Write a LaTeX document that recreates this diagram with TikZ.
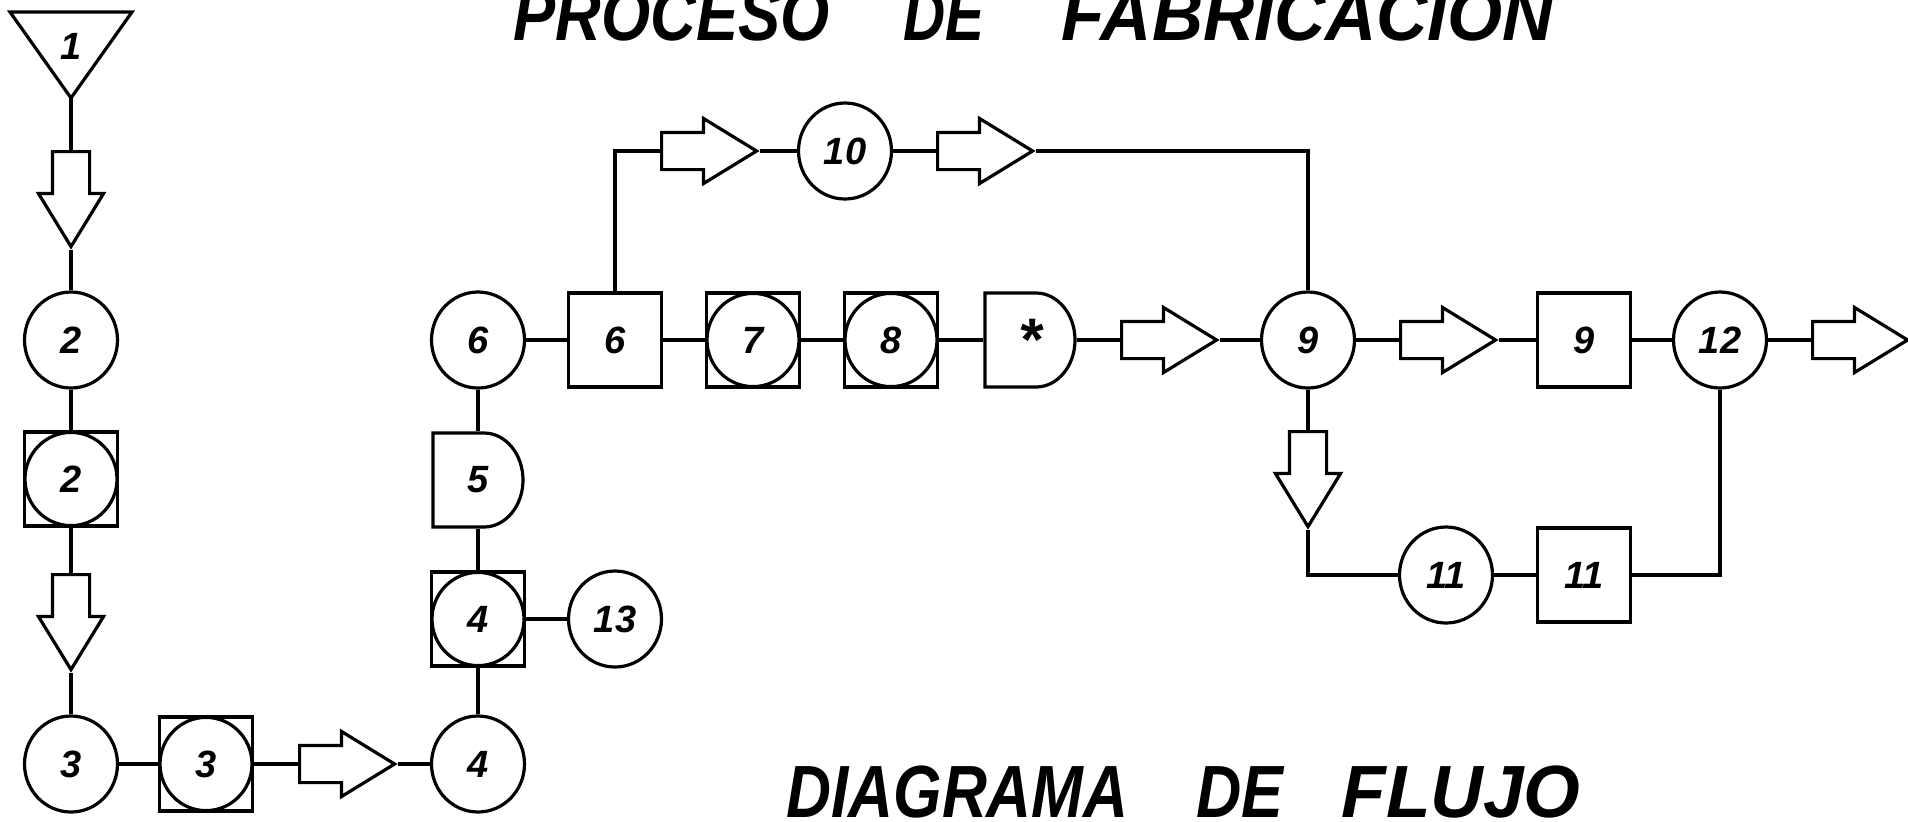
\documentclass[tikz,border=0pt]{standalone}
\usepackage{fontspec}
\setmainfont{Liberation Sans}
\usetikzlibrary{shapes.geometric,shapes.arrows}
\begin{document}
\begin{tikzpicture}[x=0.5pt,y=-0.5pt,
  line width=1.6pt,
  every node/.style={inner sep=0pt, font=\fontsize{19}{19}\selectfont\bfseries\itshape},
  circ/.style={draw, ellipse, minimum width=46.5pt, minimum height=48pt},
  sqbox/.style={draw, rectangle, minimum width=46.5pt, minimum height=47pt},
  boxcirc/.style={sqbox, path picture={\draw[line width=1.6pt] (path picture bounding box.center) ellipse [x radius=23pt, y radius=23.3pt];}},
  dbox/.style={rectangle, minimum width=45pt, minimum height=47pt},
  rarrow/.style={draw, single arrow, anchor=tail, minimum height=47.5pt, minimum width=31pt, inner xsep=0pt, inner ysep=8.5pt, single arrow head extend=7pt, single arrow tip angle=63},
  darrow/.style={rarrow, rotate=-90},
  titlefont/.style={font=\fontsize{37}{37}\selectfont\bfseries\itshape}
]
\clip (0,0) rectangle (1908,821);

% titles
\node[titlefont, anchor=base west] (title) at (512,40) {\resizebox{158pt}{\height}{PROCESO}\hspace{37pt}\resizebox{40.5pt}{\height}{DE}\hspace{38.5pt}\resizebox{246pt}{\height}{FABRICACION}};
\node[titlefont, anchor=base west] (sub) at (785,817) {\resizebox{171pt}{\height}{DIAGRAMA}\hspace{34pt}\resizebox{43.5pt}{\height}{DE}\hspace{29pt}\resizebox{119.5pt}{\height}{FLUJO}};

% left column
\node (t1) at (71,46) {1};
\coordinate (t1apex) at (71,98);
\draw (10,12) -- (132,12) -- (t1apex) -- cycle;
\node[darrow] (a1) at (71,150) {};
\node[circ] (c2) at (71,340) {2};
\node[boxcirc] (bc2) at (71,479) {2};
\node[darrow] (a2) at (71,573) {};
\node[circ] (c3) at (71,764) {3};

% bottom row
\node[boxcirc] (bc3) at (206,764) {3};
\node[rarrow] (a3) at (298,764) {};
\node[circ] (c4b) at (478,764) {4};

% second column
\node[boxcirc] (bc4) at (478,619) {4};
\node[circ] (c13) at (615,619) {13};
\node[dbox] (d5) at (478,480) {5};
\node[circ] (c6) at (478,340) {6};

% main row
\node[sqbox] (b6) at (615,340) {6};
\node[boxcirc] (bc7) at (753,340) {7};
\node[boxcirc] (bc8) at (891,340) {8};
\node[dbox] (dst) at (1030,340) {\fontsize{30}{30}\selectfont\raisebox{-0.3em}{*}};
\node[rarrow] (aC) at (1120,340) {};
\node[circ] (c9) at (1308,340) {9};
\node[rarrow] (aD) at (1399,340) {};
\node[sqbox] (b9) at (1584,340) {9};
\node[circ] (c12) at (1720,340) {12};
\node[rarrow] (aE) at (1811,340) {};

% top branch
\node[rarrow] (aA) at (660,151) {};
\node[circ] (c10) at (845,151) {10};
\node[rarrow] (aB) at (936,151) {};

% bottom branch
\node[darrow] (a9) at (1308,430) {};
\node[circ] (c11) at (1446,575) {11};
\node[sqbox] (b11) at (1584,575) {11};

% D shapes (straight back, rounded front)
\draw[shift={(d5.center)}] (-45,-47) -- (6,-47) .. controls (27.5,-47) and (45,-26) .. (45,0) .. controls (45,26) and (27.5,47) .. (6,47) -- (-45,47) -- cycle;
\draw[shift={(dst.center)}] (-45,-47) -- (6,-47) .. controls (27.5,-47) and (45,-26) .. (45,0) .. controls (45,26) and (27.5,47) .. (6,47) -- (-45,47) -- cycle;

% connectors
\draw (t1apex) -- (a1.tail);
\draw (a1.tip) -- (c2);
\draw (c2) -- (bc2);
\draw (bc2) -- (a2.tail);
\draw (a2.tip) -- (c3);
\draw (c3) -- (bc3);
\draw (bc3) -- (a3.tail);
\draw (a3.tip) -- (c4b);
\draw (c4b) -- (bc4);
\draw (c13) -- (bc4);
\draw (bc4) -- (d5.south);
\draw (d5.north) -- (c6);
\draw (c6) -- (b6);
\draw (b6) -- (bc7);
\draw (bc7) -- (bc8);
\draw (bc8) -- (dst.west);
\draw (dst.east) -- (aC.tail);
\draw (aC.tip) -- (c9);
\draw (c9) -- (aD.tail);
\draw (aD.tip) -- (b9);
\draw (b9) -- (c12);
\draw (c12) -- (aE.tail);
\draw (b6.north) |- (aA.tail);
\draw (aA.tip) -- (c10);
\draw (c10) -- (aB.tail);
\draw (aB.tip) -| (c9.north);
\draw (c9.south) -- (a9.tail);
\draw (a9.tip) |- (c11.west);
\draw (c11) -- (b11);
\draw (b11.east) -| (c12.south);
\end{tikzpicture}
\end{document}
